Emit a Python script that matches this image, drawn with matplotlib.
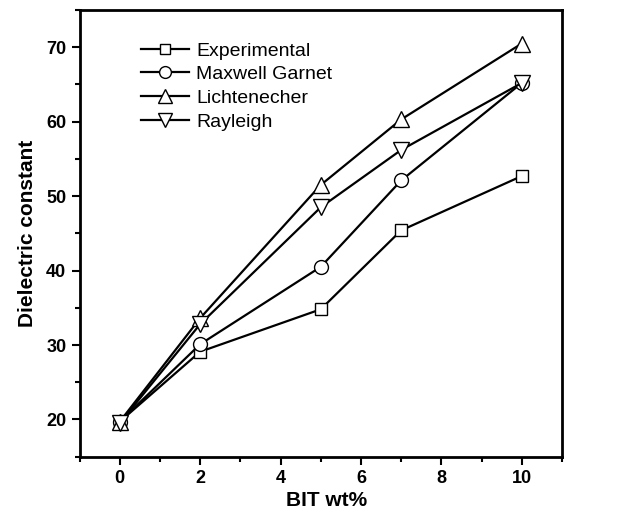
import matplotlib
matplotlib.use("Agg")
import matplotlib.pyplot as plt
from matplotlib.ticker import MultipleLocator

x = [0, 2, 5, 7, 10]
experimental = [19.7, 29.1, 34.8, 45.4, 52.7]
maxwell = [19.7, 30.1, 40.5, 52.1, 65.2]
lichtenecher = [19.7, 33.6, 51.5, 60.3, 70.5]
rayleigh = [19.5, 32.8, 48.5, 56.2, 65.2]
labels = ["Experimental", "Maxwell Garnet", "Lichtenecher", "Rayleigh"]

plt.rcParams['font.family'] = ['Liberation Sans', 'DejaVu Sans']

W, H = 626, 517
fig = plt.figure(figsize=(W / 100, H / 100), dpi=100)
# axes box in pixels (from top-left)
L, R, T, B = 79.5, 562.0, 10.0, 456.7
ax = fig.add_axes([L / W, 1 - B / H, (R - L) / W, (B - T) / H])

series = [experimental, maxwell, lichtenecher, rayleigh]
markers = ['s', 'o', '^', 'v']
sizes = [8.5, 10, 11.5, 11.5]
for y, m, lab, s in zip(series, markers, labels, sizes):
    ax.plot(x, y, color='black', lw=1.6, marker=m, markersize=s,
            markerfacecolor='white', markeredgecolor='black',
            markeredgewidth=1.0, label=lab)

ax.set_xlim(-1, 11)
ax.set_ylim(15, 75)
ax.xaxis.set_major_locator(MultipleLocator(2))
ax.xaxis.set_minor_locator(MultipleLocator(1))
ax.yaxis.set_major_locator(MultipleLocator(10))
ax.yaxis.set_minor_locator(MultipleLocator(5))
ax.tick_params(which='major', direction='out', length=5.5, width=1.5,
               labelsize=13, top=False, right=False, pad=4)
ax.tick_params(which='minor', direction='out', length=3.5, width=1.5,
               top=False, right=False)
for lbl in ax.get_xticklabels() + ax.get_yticklabels():
    lbl.set_fontweight('bold')
for sp in ax.spines.values():
    sp.set_linewidth(2)

ax.set_xlabel("BIT wt%", fontsize=15, fontweight='bold', va='center')
ax.set_ylabel("Dielectric constant", fontsize=15, fontweight='bold', va='center')
ax.xaxis.set_label_coords((327 - L) / (R - L), (B - 500) / (B - T))
ax.yaxis.set_label_coords((27 - L) / (R - L), 0.5)

# legend placement (pixel targets from top-left)
fs = 14
fs_px = fs * 100 / 72
target_text_left = 196.0
target_first_center = 51.0
target_spacing = 23.8
ls = 0.05
anchor = (target_text_left - 55, target_first_center - 12)


def make_legend(ls, anchor):
    lg = ax.legend(loc='upper left',
                   bbox_to_anchor=(anchor[0] / W, 1 - anchor[1] / H),
                   bbox_transform=fig.transFigure, frameon=False,
                   fontsize=fs, handlelength=48 / fs_px, labelspacing=ls,
                   handletextpad=7 / fs_px, borderpad=0, borderaxespad=0,
                   markerscale=0.85)
    return lg


leg = make_legend(ls, anchor)
for _ in range(3):
    fig.canvas.draw()
    r = fig.canvas.get_renderer()
    ext = [t.get_window_extent(r) for t in leg.get_texts()]
    centers = [H - (e.y0 + e.y1) / 2 for e in ext]
    spacing = (centers[-1] - centers[0]) / (len(centers) - 1)
    ls += (target_spacing - spacing) / fs_px
    dx = target_text_left - ext[0].x0
    dy = target_first_center - centers[0]
    anchor = (anchor[0] + dx, anchor[1] + dy)
    leg.remove()
    leg = make_legend(ls, anchor)

fig.savefig("out.png", dpi=100)
